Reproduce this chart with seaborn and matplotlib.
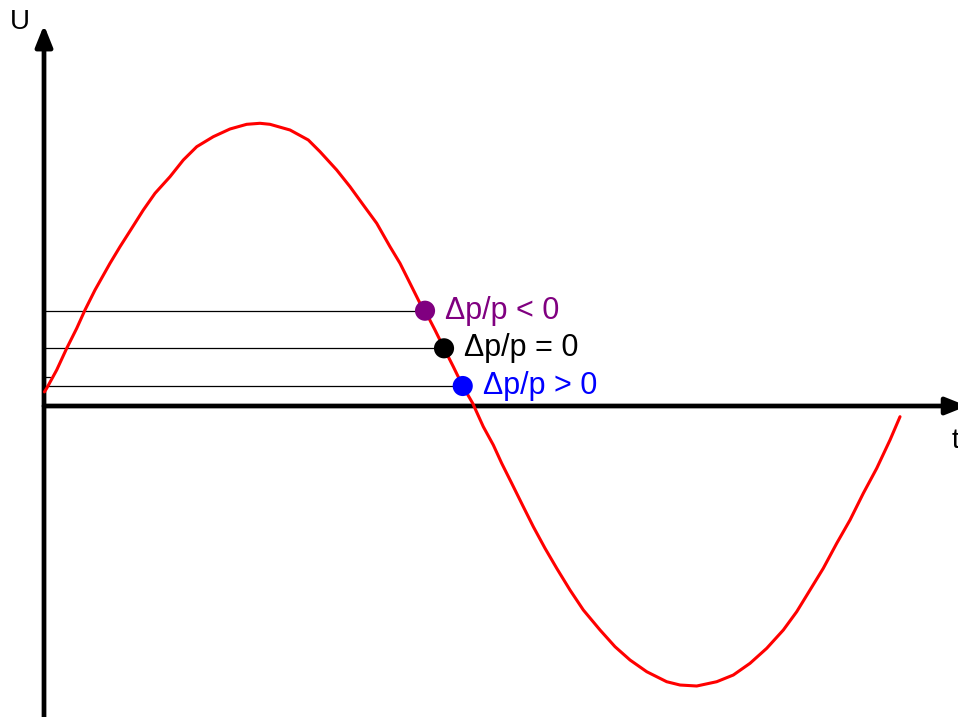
import numpy as np
import pandas as pd
import matplotlib
matplotlib.use("Agg")
import matplotlib.pyplot as plt
import seaborn as sns

# 曲線の読み取り値 (t: 半周期=1, U: 振幅=1)
t_curve = [0.001, 0.0063, 0.0298, 0.0533, 0.0768, 0.0962, 0.1197, 0.1549, 0.1784, 0.2059,
           0.2331, 0.2606, 0.2958, 0.3270, 0.3585, 0.3974, 0.4366, 0.4758, 0.5070, 0.5305,
           0.5775, 0.6204, 0.6479, 0.6871, 0.7183, 0.7495, 0.7810, 0.8122, 0.8357, 0.8592,
           0.8826, 0.8944, 0.9178, 0.9390, 0.9608, 0.9829, 1.0063, 1.0312, 1.0547, 1.0744,
           1.0979, 1.1251, 1.1486, 1.1761, 1.2035, 1.2347, 1.2660, 1.3052, 1.3404, 1.3756,
           1.4148, 1.4617, 1.4930, 1.5322, 1.5791, 1.6181, 1.6573, 1.6965, 1.7355, 1.7669,
           1.7981, 1.8293, 1.8608, 1.8920, 1.9232, 1.9547, 1.9859, 2.0094]
u_curve = [0.050, 0.0628, 0.1277, 0.2046, 0.2755, 0.3404, 0.4113, 0.5060, 0.5649, 0.6301,
           0.6950, 0.7543, 0.8131, 0.8723, 0.9195, 0.9550, 0.9823, 0.9989, 1.0025, 0.9989,
           0.9787, 0.9433, 0.9018, 0.8369, 0.7777, 0.7128, 0.6479, 0.5649, 0.5060, 0.4351,
           0.3642, 0.3379, 0.2695, 0.2046, 0.1394, 0.0709, 0.0096, -0.0734, -0.1383, -0.2032,
           -0.2741, -0.3571, -0.4280, -0.5046, -0.5755, -0.6525, -0.7234, -0.7943, -0.8535, -0.9007,
           -0.9422, -0.9777, -0.9894, -0.9929, -0.9777, -0.9539, -0.9124, -0.8592, -0.7943, -0.7294,
           -0.6525, -0.5755, -0.4869, -0.4043, -0.3096, -0.2209, -0.1206, -0.0379]

# 3つの点とラベル
point_t = [0.8944, 0.9390, 0.9829]
point_u = [0.3379, 0.2046, 0.0709]
point_labels = ["\u0394p/p < 0", "\u0394p/p = 0", "\u0394p/p > 0"]
point_colors = ["#800080", "#000000", "#0000ff"]

sns.set_theme(style="white")
plt.rcParams['font.family'] = ['Liberation Sans', 'DejaVu Sans']

fig = plt.figure(figsize=(9.58, 7.17), dpi=100)
ax = fig.add_axes([0, 0, 1, 1])
ax.set_axis_off()

X_MIN, X_MAX = -0.1033, 2.1455
Y_MIN, Y_MAX = -1.1028, 1.4397

# 座標軸（矢印）
arrow_kw = dict(arrowstyle="-|>,head_length=0.75,head_width=0.3", lw=3.4,
                color="black", mutation_scale=17, shrinkA=0, shrinkB=0)
ax.annotate("", xy=(0, 1.351), xytext=(0, Y_MIN - 0.05), arrowprops=arrow_kw,
            annotation_clip=False)
ax.annotate("", xy=(2.167, 0), xytext=(0, 0), arrowprops=arrow_kw,
            annotation_clip=False)
ax.text(-0.080, 1.362, "U", fontsize=20, color="black", ha="left", va="center")
ax.text(2.131, -0.125, "t", fontsize=20, color="black", ha="left", va="center")

# 水平線
for pt, pu in zip(point_t, point_u):
    ax.plot([0, pt], [pu, pu], color="black", lw=0.9, zorder=2)
ax.plot([0, 0.014], [0.103, 0.103], color="black", lw=0.9, zorder=2)

df = pd.DataFrame({"t": t_curve, "U": u_curve})
sns.lineplot(data=df, x="t", y="U", color="#ff0000", lw=2.2, sort=False, ax=ax, zorder=3)

df_pts = pd.DataFrame({"t": point_t, "U": point_u, "label": point_labels})
sns.scatterplot(data=df_pts, x="t", y="U", hue="label", palette=point_colors,
                s=210, edgecolor="none", legend=False, ax=ax, zorder=4)

for pt, pu, lab, col in zip(point_t, point_u, point_labels, point_colors):
    ax.text(pt + 0.048, pu, lab, color=col, fontsize=22, ha="left", va="center")

ax.set_xlim(X_MIN, X_MAX)
ax.set_ylim(Y_MIN, Y_MAX)
ax.set_xlabel("")
ax.set_ylabel("")

fig.savefig("out.png", dpi=100)
